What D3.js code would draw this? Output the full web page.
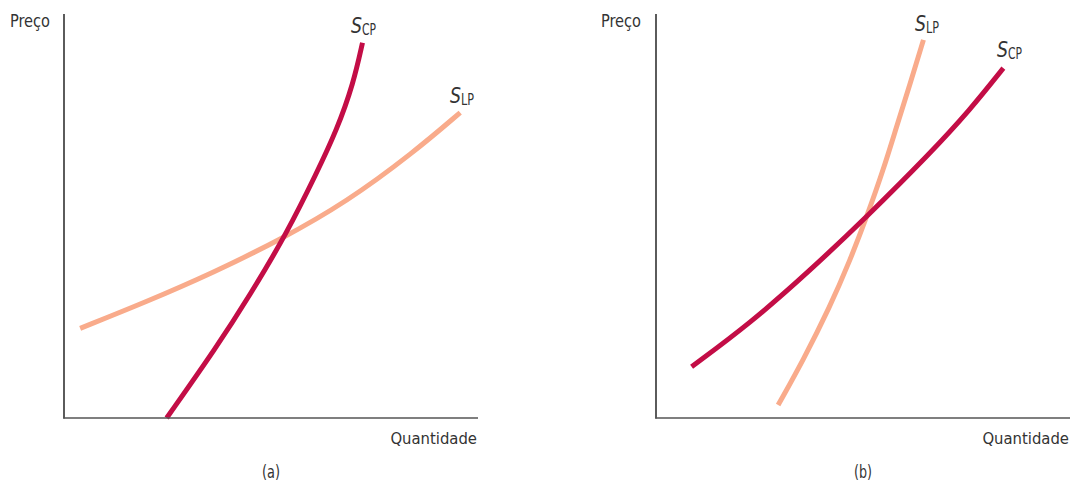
<!DOCTYPE html>
<html>
<head>
<meta charset="utf-8">
<script src="https://cdn.jsdelivr.net/npm/d3@7/dist/d3.min.js"></script>
<style>
  html, body { margin: 0; padding: 0; background: #fff; }
  text { font-family: "DejaVu Sans Condensed", "Liberation Sans", "Roboto", sans-serif; fill: #333; }
</style>
</head>
<body>
<svg id="chart" width="1075" height="484"></svg>
<script>
// Panel (a): short-run (CP) supply steeper than long-run (LP)
const panelA_SCP = [[24.8,0],[36.9,17.6],[44.9,30.4],[53.8,45.7],[61.0,60.6],[65.9,71.3],[69.9,82.8],[72.1,92.9]];
const panelA_SLP = [[3.9,22.2],[20.0,28.8],[36.1,36.0],[52.2,44.1],[68.3,53.5],[84.4,65.7],[95.7,75.6]];
// Panel (b): long-run (LP) supply steeper than short-run (CP)
const panelB_SCP = [[8.6,12.7],[22.7,23.4],[37.2,36.5],[50.9,49.8],[66.2,65.5],[75.8,76.2],[83.9,86.6]];
const panelB_SLP = [[29.5,3.2],[35.6,14.4],[42.0,27.5],[46.9,39.1],[50.9,49.8],[54.9,61.4],[58.1,72.1],[61.4,82.8],[64.6,93.6]];

const yLabel = "Preço";
const xLabel = "Quantidade";
const panelLabels = ["(a)", "(b)"];

const svg = d3.select("#chart");
const colCP = "#c30d46";
const colLP = "#f9ab8b";

const panels = [
  {x0: 64, x1: 478, label: panelLabels[0], cp: panelA_SCP, lp: panelA_SLP,
   cpLab: [351, 33], lpLab: [450, 103], yLabX: 10},
  {x0: 656, x1: 1070, label: panelLabels[1], cp: panelB_SCP, lp: panelB_SLP,
   cpLab: [997, 57], lpLab: [915, 31], yLabX: 601}
];

const yTop = 14, yBot = 418;

panels.forEach(p => {
  const x = d3.scaleLinear().domain([0, 100]).range([p.x0, p.x1]);
  const y = d3.scaleLinear().domain([0, 100]).range([yBot, yTop]);
  const g = svg.append("g");

  const line = d3.line().x(d => x(d[0])).y(d => y(d[1])).curve(d3.curveBasis);

  g.append("path").datum(p.lp).attr("d", line)
    .attr("fill", "none").attr("stroke", colLP).attr("stroke-width", 5);
  g.append("path").datum(p.cp).attr("d", line)
    .attr("fill", "none").attr("stroke", colCP).attr("stroke-width", 5);

  // axes
  g.append("line").attr("x1", x(0)).attr("x2", x(0)).attr("y1", yTop).attr("y2", yBot + 0.5)
    .attr("stroke", "#333").attr("stroke-width", 1.6);
  g.append("line").attr("x1", x(0) - 0.8).attr("x2", x(100)).attr("y1", yBot).attr("y2", yBot)
    .attr("stroke", "#555").attr("stroke-width", 1.6);

  g.append("text").attr("x", p.yLabX).attr("y", 27).attr("font-size", 18)
    .attr("textLength", 40).attr("lengthAdjust", "spacingAndGlyphs").text(yLabel);
  g.append("text").attr("x", x(100) - 1).attr("y", 444).attr("text-anchor", "end")
    .attr("font-size", 16.5).text(xLabel);
  g.append("text").attr("x", (p.x0 + p.x1) / 2 - 9).attr("y", 478)
    .attr("font-size", 18).attr("textLength", 18).attr("lengthAdjust", "spacingAndGlyphs").text(p.label);

  [[p.cpLab, "CP"], [p.lpLab, "LP"]].forEach(([pos, sub]) => {
    g.append("text").attr("x", pos[0]).attr("y", pos[1]).attr("font-size", 22)
      .attr("font-style", "italic").attr("textLength", 11).attr("lengthAdjust", "spacingAndGlyphs").text("S");
    g.append("text").attr("x", pos[0] + 11).attr("y", pos[1] + 2).attr("font-size", 16)
      .attr("textLength", sub === "CP" ? 14 : 13).attr("lengthAdjust", "spacingAndGlyphs").text(sub);
  });
});
</script>
</body>
</html>
